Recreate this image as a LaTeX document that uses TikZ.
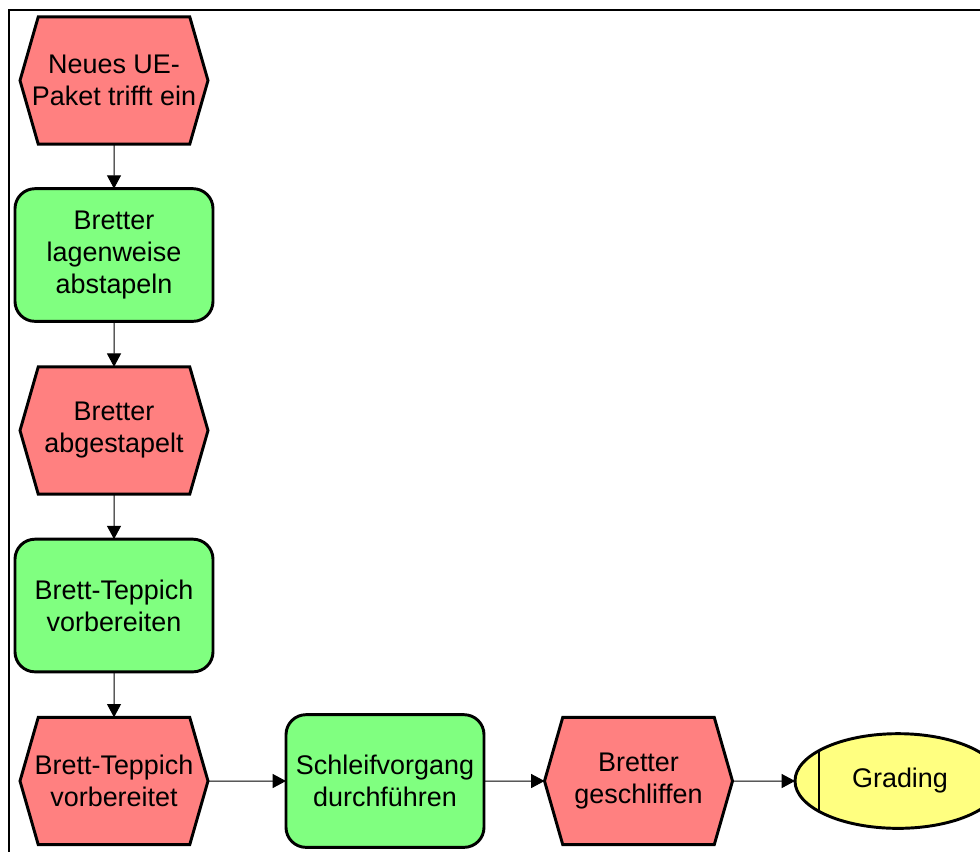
\documentclass[tikz,border=0pt]{standalone}
\usepackage{fontspec}
\setmainfont{Liberation Sans}
\usetikzlibrary{arrows.meta,shapes.symbols,shapes.geometric}
\definecolor{EventRed}{RGB}{255,128,128}
\definecolor{FuncGreen}{RGB}{128,255,128}
\definecolor{PathYellow}{RGB}{255,255,128}

\begin{document}
\begin{tikzpicture}[x=0.75pt, y=-0.75pt,
    event/.style={draw, line width=2.2pt, fill=EventRed, shape=signal, signal to=east and west,
        signal pointer angle=148, minimum width=141pt, minimum height=95.5pt, inner xsep=-25pt,
        inner ysep=0pt, outer sep=0pt, align=center, font=\fontsize{20.2}{24}\selectfont},
    func/.style={draw, line width=2.2pt, fill=FuncGreen, rounded corners=15pt, rectangle,
        minimum width=148.5pt, minimum height=99.5pt, inner sep=0pt, outer sep=0pt,
        align=center, font=\fontsize{20.2}{24}\selectfont},
    flow/.style={-{Triangle[length=10pt,width=10.5pt]}, line width=0.75pt}]
    \useasboundingbox (0,0) rectangle (980,851);
    % Frame
    \draw[line width=2pt] (9,900) -- (9,10) -- (1000,10);
    % Draw nodes
    \node[event] (ev1) at (114,80.5) {Neues UE-\\Paket trifft ein};
    \node[func] (fn1) at (114,255) {Bretter\\lagenweise\\abstapeln};
    \node[event] (ev2) at (114,430.5) {Bretter\\abgestapelt};
    \node[func] (fn2) at (114,605.5) {Brett-Teppich\\vorbereiten};
    \node[event] (ev3) at (114,781) {Brett-Teppich\\vorbereitet};
    \node[func] (fn3) at (385,781) {Schleifvorgang\\durchf\"uhren};
    \node[event] (ev4) at (638.5,781) {Bretter\\geschliffen};
    \node[draw, line width=2.2pt, fill=PathYellow, ellipse, minimum width=154.5pt,
        minimum height=71pt, inner sep=0pt, outer sep=0pt,
        font=\fontsize{20.2}{24}\selectfont,
        path picture={\draw[line width=2.2pt]
            ([xshift=-59.25pt]path picture bounding box.north) --
            ([xshift=-59.25pt]path picture bounding box.south);}]
        (gr) at (898,781) {\hspace*{3pt}Grading};
    % Draw control flow
    \draw[flow] (ev1) -- (fn1);
    \draw[flow] (fn1) -- (ev2);
    \draw[flow] (ev2) -- (fn2);
    \draw[flow] (fn2) -- (ev3);
    \draw[flow] (ev3) -- (fn3);
    \draw[flow] (fn3) -- (ev4);
    \draw[flow] (ev4) -- (gr);
\end{tikzpicture}
\end{document}
